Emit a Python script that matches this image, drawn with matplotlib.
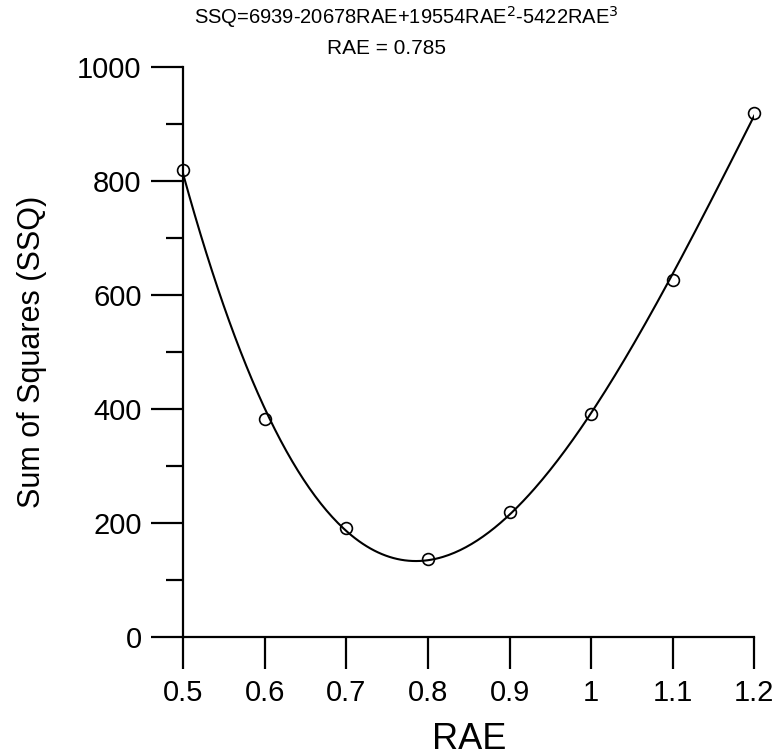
import numpy as np
import matplotlib.pyplot as plt

plt.rcParams['font.family'] = ['Liberation Sans', 'DejaVu Sans']

# dane z wykresu
rae = [0.5, 0.6, 0.7, 0.8, 0.9, 1.0, 1.1, 1.2]
ssq = [818, 382, 192, 138, 219, 392, 626, 919]

# wspolczynniki wielomianu z tytulu
coef = [6939, -20678, 19554, -5422]
rae_opt = 0.785

x_ticks = [0.5, 0.6, 0.7, 0.8, 0.9, 1.0, 1.1, 1.2]
x_labels = ['0.5', '0.6', '0.7', '0.8', '0.9', '1', '1.1', '1.2']
y_ticks = [0, 200, 400, 600, 800, 1000]

fig = plt.figure(figsize=(7.8, 7.56), dpi=100)
ax = fig.add_axes([0.235, 0.157, 0.732, 0.755])

xx = np.linspace(min(rae), max(rae), 300)
yy = coef[0] + coef[1] * xx + coef[2] * xx**2 + coef[3] * xx**3
ax.plot(xx, yy, color='black', lw=1.5, zorder=2)
ax.plot(rae, ssq, 'o', mfc='none', mec='black', ms=8.5, mew=1.2, zorder=3, clip_on=False)

ax.set_xlim(0.5, 1.2)
ax.set_ylim(0, 1000)
ax.set_xticks(x_ticks)
ax.set_xticklabels(x_labels)
ax.set_yticks(y_ticks)
ax.set_yticks(np.arange(100, 1000, 200), minor=True)

ax.spines['top'].set_visible(False)
ax.spines['right'].set_visible(False)
for s in ['left', 'bottom']:
    ax.spines[s].set_linewidth(1.6)

ax.tick_params(axis='both', which='major', direction='out', length=23, width=1.6,
               labelsize=21, pad=7)
ax.tick_params(axis='y', which='minor', direction='out', length=12, width=1.6)

ax.set_xlabel('RAE', fontsize=26, labelpad=11)
ax.set_ylabel('Sum of Squares (SSQ)', fontsize=22, labelpad=22)

fig.text(0.521, 0.978, 'SSQ=6939-20678RAE+19554RAE$^2$-5422RAE$^3$',
         ha='center', va='center', fontsize=14.5)
fig.text(0.495, 0.936, f'RAE = {rae_opt}', ha='center', va='center', fontsize=15)

plt.savefig('out.png', dpi=100)
